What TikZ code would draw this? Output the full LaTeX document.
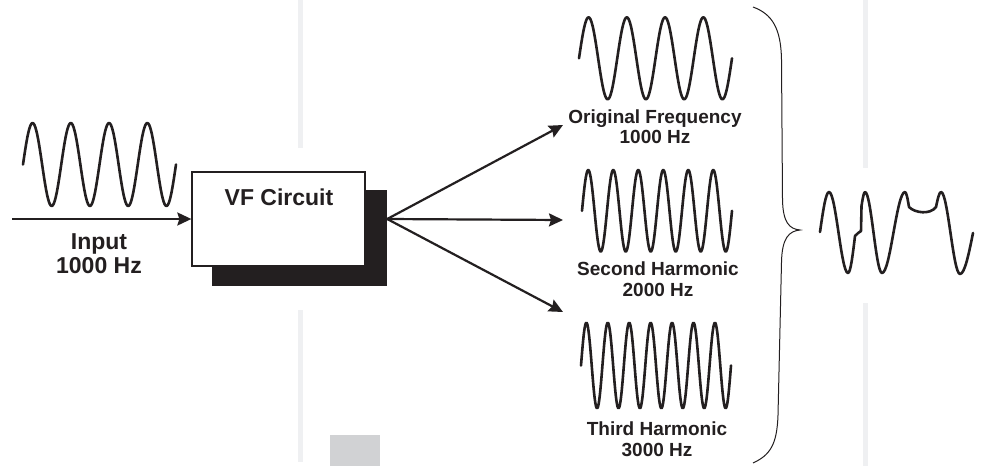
\documentclass[tikz,border=0pt]{standalone}
\usepackage{fontspec}
\setmainfont{Liberation Sans}
\usetikzlibrary{arrows.meta}
\definecolor{ink}{HTML}{231F20}
\definecolor{barc}{HTML}{EFF0F2}
\definecolor{patch}{HTML}{D1D2D4}
\begin{document}
\begin{tikzpicture}[x=1pt,y=-1pt,
  wave/.style={draw=ink, line width=2.6pt, line join=round, line cap=round},
  conn/.style={draw=ink, line width=2.2pt, -{Stealth[length=14pt,width=13pt,inset=2pt]}},
  bigtxt/.style={font=\fontsize{23}{24}\selectfont\bfseries, text=ink, align=center, inner sep=0pt},
  smalltxt/.style={font=\fontsize{19}{20.5}\selectfont\bfseries, text=ink, align=center, inner sep=0pt},
  circbox/.style={draw=ink, line width=1.3pt, fill=white, minimum width=173pt, minimum height=94pt, inner sep=0pt},
  shadowbox/.style={fill=ink, minimum width=175pt, minimum height=96pt, inner sep=0pt},
  bracestyle/.style={draw=ink, line width=1pt}
]
\useasboundingbox (0,0) rectangle (981,466);
\fill[white] (0,0) rectangle (981,466);
% faint background bars
\fill[barc] (298,0) rectangle (303,148);
\fill[barc] (298,310) rectangle (303,462);
\fill[barc] (863,0) rectangle (868,168);
\fill[barc] (863,303) rectangle (868,466);
\fill[patch] (330,435) rectangle (380,466);

% input wave
\draw[wave] plot[domain=0:1440, samples=161, variable=\t, smooth] ({23+153*(\t/1440)}, {164.5-41.5*sin(\t)});
% input arrow & label
\coordinate (inp) at (12,219);
\node[shadowbox] (shadow) at (299.5,237.5) {};
\node[circbox] (box) at (278.5,219) {};
\node[bigtxt, anchor=north] (vfl) at (279,189) {VF Circuit};
\draw[conn] (inp) -- (box.west);
\node[bigtxt, anchor=north] (inlabel) at (99,233) {Input\\1000 Hz};

% split arrows
\coordinate (split) at (shadow.east |- box.center);
\coordinate (o1) at (563,125);
\coordinate (o2) at (563,220);
\coordinate (o3) at (563,312);
\draw[conn] (split) -- (o1);
\draw[conn] (split) -- (o2);
\draw[conn] (split) -- (o3);

% output waves
\draw[wave] plot[domain=0:1440, samples=161, variable=\t, smooth] ({579+153*(\t/1440)}, {58.3-41*sin(\t)});
\draw[wave] plot[domain=0:2160, samples=241, variable=\t, smooth] ({582+150*(\t/2160)}, {210.8-40.8*sin(\t)});
\draw[wave] plot[domain=0:2520, samples=281, variable=\t, smooth] ({581+150*(\t/2520)}, {365.5-42.8*sin(\t)});

\node[smalltxt, anchor=north] (l1) at (655,109.5) {Original Frequency\\1000 Hz};
\node[smalltxt, anchor=north] (l2) at (658,262) {Second Harmonic\\2000 Hz};
\node[smalltxt, anchor=north] (l3) at (657,421.7) {Third Harmonic\\3000 Hz};

% brace
\draw[bracestyle] (753,7) .. controls (772,14) and (781,28) .. (781.5,60)
  -- (782.5,200) .. controls (783,222) and (789,229) .. (800,230)
  .. controls (789,231) and (782,238) .. (781.5,262)
  -- (778,415) .. controls (777,445) and (770,455) .. (753,463);

% resulting complex wave
\draw[wave] (820,232) sin (829,192) cos (838.5,232.5) sin (848,273)
  cos (855,236) .. controls (857,233) and (859,233) .. (861,231)
  -- (861.5,206) sin (865,192) cos (873.5,232.5) sin (882,273)
  cos (893.5,232.5) sin (905,192) cos (909,207)
  .. controls (915,213) and (930,215) .. (936,207)
  sin (941,192) cos (950.5,233) sin (960,274) cos (973,233);
\end{tikzpicture}
\end{document}
